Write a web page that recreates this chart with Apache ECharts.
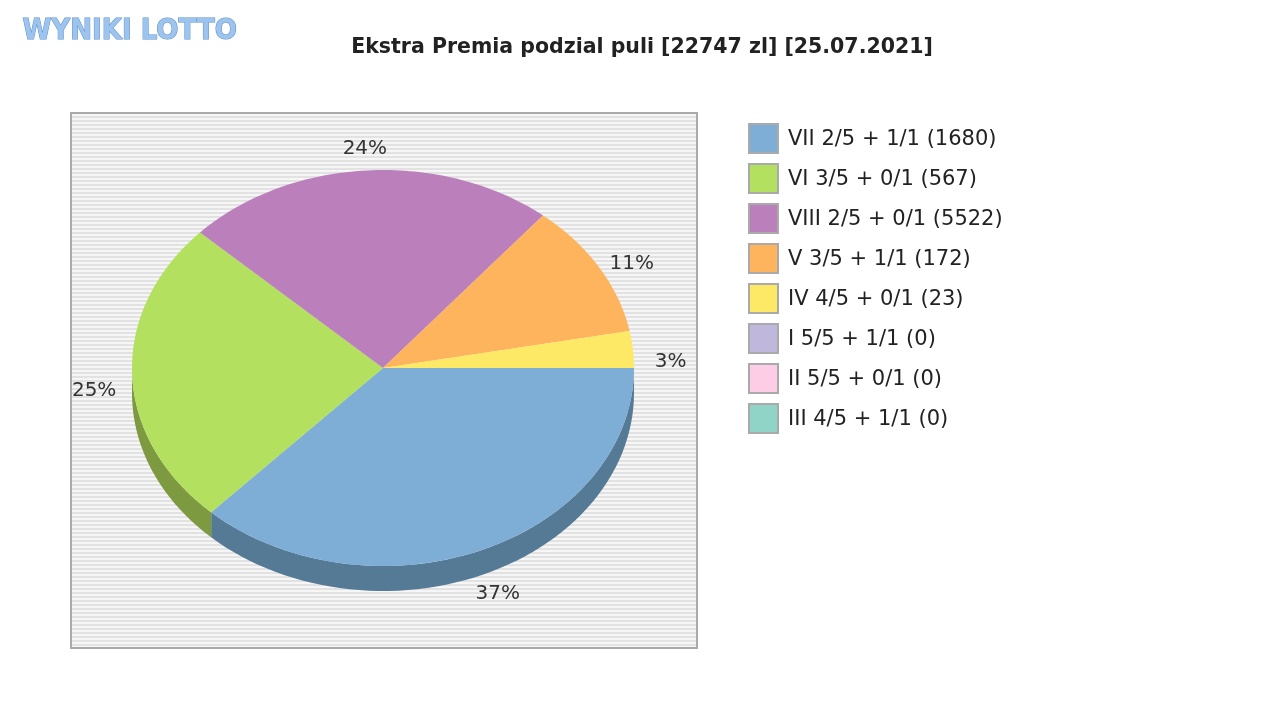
<!DOCTYPE html>
<html>
<head>
<meta charset="utf-8">
<script src="https://cdn.jsdelivr.net/npm/echarts@6/dist/echarts.min.js"></script>
<style>html,body{margin:0;background:#fff}#c{width:1280px;height:720px}</style>
</head>
<body>
<div id="c"></div>
<script>
var titleText = 'Ekstra Premia podzial puli [22747 zl] [25.07.2021]';
var names = ['VII 2/5 + 1/1 (1680)', 'VI 3/5 + 0/1 (567)', 'VIII 2/5 + 0/1 (5522)', 'V 3/5 + 1/1 (172)',
    'IV 4/5 + 0/1 (23)', 'I 5/5 + 1/1 (0)', 'II 5/5 + 0/1 (0)', 'III 4/5 + 1/1 (0)'];
var shares = [37, 25, 24, 11, 3, 0, 0, 0];
var colors = ['#7eaed5', '#b3e05e', '#bb7fbb', '#fdb45c', '#fde966', '#c0b8dc', '#fdcce5', '#8fd4c7'];
var sideColors = ['#557a96', '#7d9a40', '#835983', '#b07e40', '#b0a247', '#86809a', '#b08ea0', '#64948b'];

var cx = 383, cy = 368, rx = 251, ry = 198, depth = 25;
var total = shares.reduce(function(a, b) { return a + b; }, 0);
var starts = [], acc = 0;
shares.forEach(function(v) { starts.push(acc / total * Math.PI * 2); acc += v; });

function pt(t, dy) { return [cx + rx * Math.cos(t), cy + ry * Math.sin(t) + (dy || 0)]; }

// striped background
var pat = document.createElement('canvas');
pat.width = 8; pat.height = 4;
var g = pat.getContext('2d');
g.fillStyle = '#f6f6f6'; g.fillRect(0, 0, 8, 4);
g.fillStyle = '#e2e2e2'; g.fillRect(0, 0, 8, 2);

var chart = echarts.init(document.getElementById('c'));

function sideItem(params, api) {
    var i = params.dataIndex, v = shares[i];
    if (!v) return null;
    var a0 = starts[i], a1 = a0 + v / total * Math.PI * 2;
    var b0 = Math.max(a0, 0), b1 = Math.min(a1, Math.PI);
    if (b1 <= b0) return null;
    var top = [], bot = [];
    for (var k = 0; k <= 60; k++) {
        var t = b0 + (b1 - b0) * k / 60;
        top.push(pt(t)); bot.unshift(pt(t, depth));
    }
    return { type: 'polygon', shape: { points: top.concat(bot) }, style: { fill: sideColors[i] } };
}

function topItem(params, api) {
    var i = params.dataIndex, v = shares[i];
    if (!v) return null;
    var a0 = starts[i], a1 = a0 + v / total * Math.PI * 2;
    var pts = [[cx, cy]];
    for (var k = 0; k <= 80; k++) pts.push(pt(a0 + (a1 - a0) * k / 80));
    var m = (a0 + a1) / 2, s = Math.sin(m);
    var lx = cx + (rx + 38) * Math.cos(m);
    var ly = cy + (ry + 22) * s + (s > 0 ? depth * s : 0) + 16 * (1 - Math.abs(s));
    return { type: 'group', children: [
        { type: 'polygon', shape: { points: pts }, style: { fill: colors[i] } },
        { type: 'text', x: lx, y: ly, style: { text: Math.round(v / total * 100) + '%', fill: '#333',
            font: '20px "DejaVu Sans"', align: 'center', verticalAlign: 'middle' } }
    ] };
}

var graphics = [
    { type: 'text', left: 22, top: 16, style: { text: 'WYNIKI LOTTO', fill: '#9cc4ee', stroke: '#5b8fc9',
        lineWidth: 1, font: 'bold 29px "DejaVu Sans Condensed"' } },
    { type: 'text', x: 642, y: 48, style: { text: titleText, fill: '#222', font: 'bold 20.5px "DejaVu Sans"',
        align: 'center', verticalAlign: 'middle' } },
    { type: 'rect', shape: { x: 71, y: 113, width: 626, height: 535 }, z: -1,
        style: { fill: { image: pat, repeat: 'repeat' }, stroke: '#aaa', lineWidth: 2 } }
];
names.forEach(function(n, i) {
    graphics.push({ type: 'rect', shape: { x: 749, y: 124 + i * 40, width: 29, height: 29 },
        style: { fill: colors[i], stroke: '#aaa', lineWidth: 2 } });
    graphics.push({ type: 'text', x: 788, y: 140 + i * 40, style: { text: n, fill: '#222',
        font: '21px "DejaVu Sans"', verticalAlign: 'middle' } });
});

chart.setOption({
    animation: false,
    xAxis: { show: false, min: 0, max: 1 }, yAxis: { show: false, min: 0, max: 1 },
    grid: { left: 0, right: 0, top: 0, bottom: 0 },
    graphic: graphics,
    series: [
        { type: 'custom', renderItem: sideItem, data: shares, z: 2 },
        { type: 'custom', renderItem: topItem, data: shares, z: 3 }
    ]
});
</script>
</body>
</html>
